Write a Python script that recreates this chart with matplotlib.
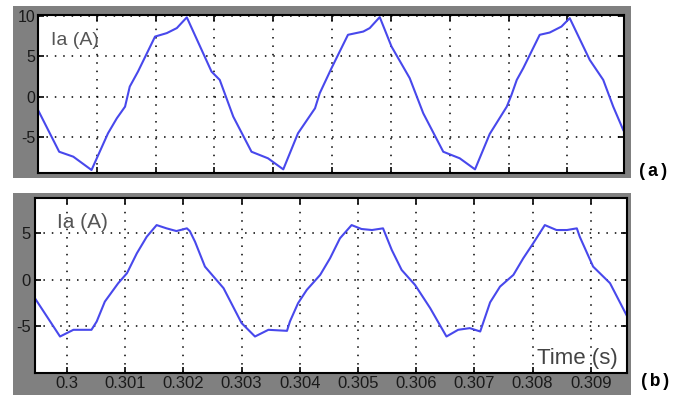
import matplotlib
matplotlib.use("Agg")
import matplotlib.pyplot as plt
from matplotlib.patches import Rectangle

plt.rcParams['font.family'] = ['Liberation Sans', 'DejaVu Sans']

# --- data ---
# (a) phase current, top panel
t_a = [0.29900, 0.29936, 0.29960, 0.29991, 0.30019, 0.30034, 0.30048, 0.30056,
       0.30070, 0.30099, 0.30119, 0.30136, 0.30153, 0.30195, 0.30209, 0.30232,
       0.30263, 0.30291, 0.30317, 0.30342, 0.30371, 0.30379, 0.30399, 0.30427,
       0.30453, 0.30464, 0.30481, 0.30501, 0.30532, 0.30555, 0.30589, 0.30617,
       0.30643, 0.30668, 0.30697, 0.30705, 0.30714, 0.30725, 0.30753, 0.30770,
       0.30790, 0.30804, 0.30838, 0.30861, 0.30878, 0.30895]
ia_a = [-1.65, -6.82, -7.43, -9.08, -4.54, -2.68, -1.24, 1.24,
        3.10, 7.43, 7.86, 8.48, 9.81, 3.10, 2.07, -2.48,
        -6.82, -7.63, -9.00, -4.54, -1.44, 0.42, 3.52, 7.65,
        8.05, 8.48, 9.84, 6.20, 2.28, -2.06, -6.82, -7.63,
        -9.00, -4.62, -1.24, 0.21, 2.07, 3.52, 7.65, 7.93,
        8.67, 9.71, 4.55, 2.07, -1.24, -4.13]

# (b) phase current, bottom panel
t_b = [0.29943, 0.29988, 0.30011, 0.30042, 0.30051, 0.30065, 0.30088, 0.30103,
       0.30120, 0.30137, 0.30154, 0.30171, 0.30188, 0.30206, 0.30211, 0.30220,
       0.30237, 0.30269, 0.30300, 0.30323, 0.30346, 0.30378, 0.30383, 0.30397,
       0.30412, 0.30435, 0.30452, 0.30469, 0.30489, 0.30506, 0.30524, 0.30543,
       0.30558, 0.30575, 0.30598, 0.30624, 0.30652, 0.30672, 0.30692, 0.30710,
       0.30727, 0.30744, 0.30767, 0.30784, 0.30801, 0.30821, 0.30841, 0.30859,
       0.30876, 0.30881, 0.30904, 0.30933, 0.30964]
ia_b = [-1.79, -6.08, -5.36, -5.36, -4.47, -2.33, -0.35, 0.72,
        2.86, 4.64, 5.89, 5.54, 5.25, 5.54, 5.25, 4.10,
        1.43, -0.89, -4.64, -6.08, -5.36, -5.47, -4.47, -2.50,
        -1.07, 0.54, 2.33, 4.47, 5.89, 5.47, 5.36, 5.54,
        3.22, 1.07, -0.54, -3.03, -6.08, -5.36, -5.18, -5.54,
        -2.41, -0.72, 0.54, 2.33, 3.93, 5.89, 5.36, 5.36,
        5.54, 4.64, 1.43, -0.35, -4.10]

xticks_a = [0.300, 0.301, 0.302, 0.303, 0.304, 0.305, 0.306, 0.307, 0.308]
yticks_a = [-5, 0, 5, 10]
xticks_b = [0.300, 0.301, 0.302, 0.303, 0.304, 0.305, 0.306, 0.307, 0.308, 0.309]
xlabels_b = ['0.3', '0.301', '0.302', '0.303', '0.304', '0.305', '0.306',
             '0.307', '0.308', '0.309']
yticks_b = [-5, 0, 5]

W, H = 694, 395
fig = plt.figure(figsize=(W / 100, H / 100), dpi=100)
fig.patch.set_facecolor('white')

frame_col = '#808080'
line_col = '#4848ec'
grid_kw = dict(color='black', linestyle=(0, (1, 4.5)), linewidth=1.1)


def px_rect(x0, y0, x1, y1):
    # pixel box (top-left origin) -> figure fraction rect
    return [x0 / W, (H - y1) / H, (x1 - x0) / W, (y1 - y0) / H]


# grey MATLAB-like frames behind the axes
for r in (px_rect(13, 6, 631, 178), px_rect(13, 193, 631, 395)):
    fig.patches.append(Rectangle((r[0], r[1]), r[2], r[3], transform=fig.transFigure,
                                 facecolor=frame_col, edgecolor='none', zorder=-5))

ax1 = fig.add_axes(px_rect(38, 15, 624, 173))
ax2 = fig.add_axes(px_rect(35, 198, 627, 373))

for ax in (ax1, ax2):
    ax.set_zorder(2)
    ax.set_facecolor('white')
    ax.grid(True, **grid_kw)
    ax.set_axisbelow(True)
    ax.tick_params(direction='in', length=4, width=1.2, top=True, right=True,
                   labelsize=12, colors='black', labelcolor='#1a1a1a', pad=3)
    for s in ax.spines.values():
        s.set_linewidth(1.5)
        s.set_color('black')

ax1.plot(t_a, ia_a, color=line_col, linewidth=1.5)
ax1.set_xlim(0.29900, 0.308963)
ax1.set_ylim(-9.45, 10.1)
ax1.set_xticks(xticks_a)
ax1.set_xticklabels([])
ax1.set_yticks(yticks_a)
ax1.set_yticklabels([str(v) for v in yticks_a])
ax1.tick_params(axis='y', labelsize=11.5, pad=2)
ax1.text(0.022, 0.84, 'Ia (A)', transform=ax1.transAxes, fontsize=14,
         color='#555555', ha='left', va='center')

ax2.plot(t_b, ia_b, color=line_col, linewidth=1.5)
ax2.set_xlim(0.29945, 0.309622)
ax2.set_ylim(-10.0, 8.8)
ax2.set_xticks(xticks_b)
ax2.set_xticklabels(xlabels_b)
ax2.set_yticks(yticks_b)
ax2.set_yticklabels([str(v) for v in yticks_b])
ax2.tick_params(axis='x', pad=2)
ax2.text(0.037, 0.86, 'Ia (A)', transform=ax2.transAxes, fontsize=15,
         color='#555555', ha='left', va='center')
ax2.text(0.985, 0.085, 'Time (s)', transform=ax2.transAxes, fontsize=16,
         color='#444444', ha='right', va='center')

fig.text(653 / W, 1 - 172 / H, '(a)', fontsize=13, fontweight='bold',
         family=['Liberation Mono', 'DejaVu Sans Mono'], ha='center', va='center')
fig.text(655 / W, 1 - 382 / H, '(b)', fontsize=13, fontweight='bold',
         family=['Liberation Mono', 'DejaVu Sans Mono'], ha='center', va='center')

fig.savefig('out.png', dpi=100, facecolor='white')
